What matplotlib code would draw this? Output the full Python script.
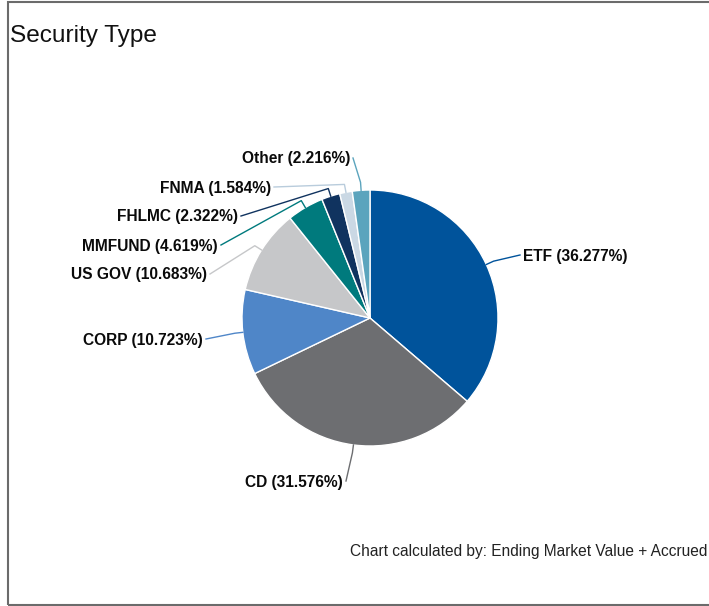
import numpy as np
import matplotlib
matplotlib.use('Agg')
import matplotlib.pyplot as plt
from matplotlib.patches import Rectangle

plt.rcParams['font.family'] = ['Liberation Sans', 'DejaVu Sans']

# Security type breakdown (percent)
categories = ['ETF', 'CD', 'CORP', 'US GOV', 'MMFUND', 'FHLMC', 'FNMA', 'Other']
shares = [36.277, 31.576, 10.723, 10.683, 4.619, 2.322, 1.584, 2.216]
colors = ['#00539B', '#6D6E71', '#4F86C8', '#C6C7C9', '#007A7D', '#10335F', '#CAD8E4', '#5BA4BD']
conn_colors = ['#00539B', '#6D6E71', '#4F86C8', '#C6C7C9', '#007A7D', '#10335F', '#B9CCDC', '#5BA4BD']

# label anchor layout in pixels (x, y, ha) -- connector ends here
label_pos = [(520, 255, 'left'), (346, 481, 'right'), (206, 339, 'right'),
             (210, 274, 'right'), (221, 245, 'right'), (241, 216, 'right'),
             (274, 187, 'right'), (353, 158, 'right')]

W, H = 709, 606
fig = plt.figure(figsize=(W / 100, H / 100), dpi=100)
ax = fig.add_axes([0, 0, 1, 1])


def py(y):
    # pixel row -> data y
    return H - y


cx, cy, r = 370, py(318), 128
wedges, _ = ax.pie(shares, colors=colors, startangle=90, counterclock=False,
                   center=(cx, cy), radius=r,
                   wedgeprops=dict(edgecolor='white', linewidth=1))
ax.set_aspect('equal')
ax.set_xlim(0, W)
ax.set_ylim(0, H)
ax.axis('off')

for w, cat, val, col, (lx, ly, ha) in zip(wedges, categories, shares, conn_colors, label_pos):
    phi = np.deg2rad((w.theta1 + w.theta2) / 2)
    ex, ey = cx + r * np.cos(phi), cy + r * np.sin(phi)
    bx, by = cx + (r + 8) * np.cos(phi), cy + (r + 8) * np.sin(phi)
    ax.plot([ex, bx, lx], [ey, by, py(ly)], color=col, lw=1, solid_joinstyle='round')
    off = 3 if ha == 'left' else -3
    ax.text(lx + off, py(ly) - 1, f'{cat} ({val:.3f}%)', ha=ha, va='center',
            fontsize=11.2, fontweight='bold', color='#0a0a0a')

ax.text(10, py(42), 'Security Type', fontsize=17.6, ha='left', va='baseline', color='#111111')
ax.text(707, py(556), 'Chart calculated by: Ending Market Value + Accrued',
        fontsize=11.2, ha='right', va='baseline', color='#222222')

ax.add_patch(Rectangle((7.5, py(604.5)), 720, 603, fill=False, edgecolor='#6b6b6b',
                       lw=1.5, clip_on=False))

fig.savefig('out.png', dpi=100)
